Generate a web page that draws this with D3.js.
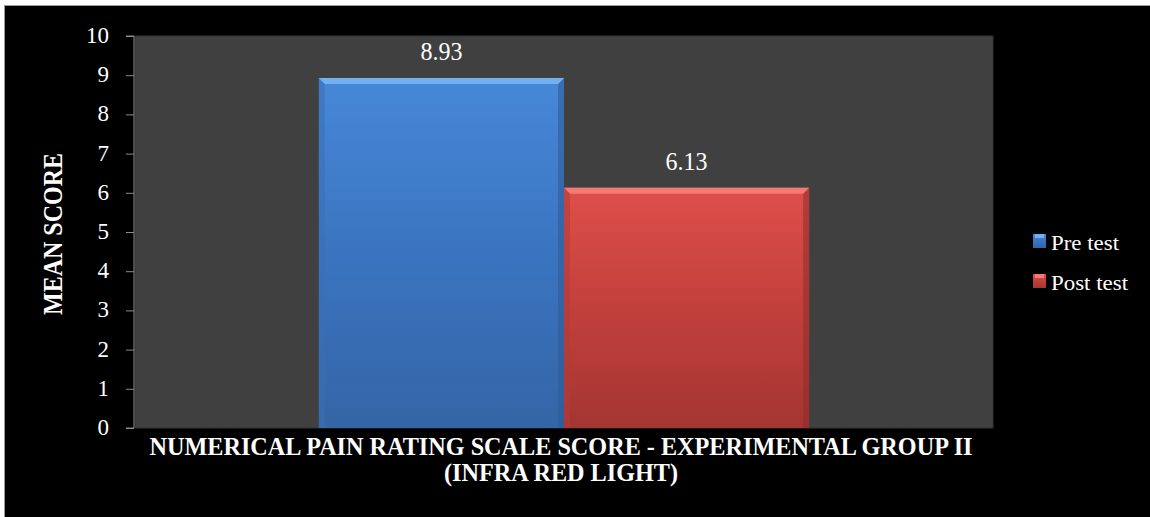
<!DOCTYPE html>
<html><head><meta charset="utf-8">
<script src="https://cdn.jsdelivr.net/npm/d3@7"></script>
<style>body{margin:0;background:#fff;}svg{display:block;} text{font-family:"Liberation Serif","DejaVu Serif",serif;}</style>
</head><body>
<svg id="c" width="1150" height="517"></svg>
<script>
const seriesNames = ["Pre test", "Post test"];
const seriesValues = [8.93, 6.13];
const valueLabels = ["8.93", "6.13"];
const category = ["NUMERICAL PAIN RATING SCALE SCORE - EXPERIMENTAL GROUP II", "(INFRA RED LIGHT)"];
const yTicks = [0,1,2,3,4,5,6,7,8,9,10];
const yTitle = "MEAN SCORE";

const svg = d3.select("#c");
const W = 1150, H = 517;
const plot = {l:135, r:993, t:36, b:428};
const font = "Liberation Serif";

svg.append("rect").attr("x",4.5).attr("y",5.5).attr("width",W-4).attr("height",H-5)
  .attr("fill","#000").attr("stroke","#9a9a9a").attr("stroke-width",1);

const defs = svg.append("defs");
const pal = [
  {main:["#4788d8","#3a74c0","#3465a6"], top:"#72b0f2", side:"#3a6fb4", dark:"#2e5a96"},
  {main:["#de4f4a","#c2403c","#a43532"], top:"#f57a74", side:"#b33b37", dark:"#8e2d2a"}
];
pal.forEach((p,i)=>{
  const g = defs.append("linearGradient").attr("id","g"+i).attr("x1",0).attr("y1",0).attr("x2",0).attr("y2",1);
  g.append("stop").attr("offset","0%").attr("stop-color",p.main[0]);
  g.append("stop").attr("offset","50%").attr("stop-color",p.main[1]);
  g.append("stop").attr("offset","100%").attr("stop-color",p.main[2]);
});

svg.append("rect").attr("x",plot.l).attr("y",plot.t).attr("width",plot.r-plot.l).attr("height",plot.b-plot.t)
  .attr("fill","#404040").attr("stroke","#333").attr("stroke-width",1);

const y = d3.scaleLinear().domain([0,10]).range([plot.b, plot.t]);
const outer = d3.scaleBand().domain([category[0]]).range([plot.l, plot.r]).paddingInner(0).paddingOuter(0);
const bw = outer.bandwidth();
const groupW = bw * 2 / 3.5;
const x = d3.scaleBand().domain(seriesNames)
  .range([outer(category[0]) + (bw-groupW)/2, outer(category[0]) + (bw+groupW)/2]).padding(0);

const bars = svg.append("g");
seriesNames.forEach((s,i)=>{
  const x0 = x(s), x1 = x(s)+x.bandwidth(), y0 = y(seriesValues[i]), y1 = y(0);
  const p = pal[i];
  const bv = 6;
  const g = bars.append("g");
  g.append("rect").attr("x",x0).attr("y",y0).attr("width",x1-x0).attr("height",y1-y0).attr("fill","url(#g"+i+")");
  g.append("path").attr("d",`M${x0},${y0}L${x0+bv},${y0+bv}L${x0+bv},${y1}L${x0},${y1}Z`).attr("fill",p.side).attr("opacity",0.55);
  g.append("path").attr("d",`M${x1},${y0}L${x1-bv},${y0+bv}L${x1-bv},${y1}L${x1},${y1}Z`).attr("fill",p.dark).attr("opacity",0.55);
  g.append("path").attr("d",`M${x0},${y0}L${x1},${y0}L${x1-bv},${y0+bv}L${x0+bv},${y0+bv}Z`).attr("fill",p.top);
  svg.append("text").attr("transform",`translate(${x0+(x1-x0)/2},${y0-18}) scale(1,1.15)`)
    .attr("text-anchor","middle").attr("fill","#fff")
    .style("font-family",font).attr("font-size",21)
    .attr("textLength",42).attr("lengthAdjust","spacingAndGlyphs")
    .text(valueLabels[i]);
});

const axisG = svg.append("g").attr("transform",`translate(${plot.l-1},0)`);
axisG.call(d3.axisLeft(y).tickValues(yTicks).tickSize(8).tickPadding(17).tickFormat(d3.format("d")));
axisG.select(".domain").attr("stroke","#8c8c8c").attr("d",`M-8,${y(10)}H0V${y(0)}H-8`);
axisG.selectAll(".tick line").attr("stroke","#8c8c8c");
axisG.selectAll(".tick text").attr("fill","#fff").style("font-family",font).attr("font-size",23).attr("dy","0.28em");

svg.append("text").attr("transform",`translate(62,234) rotate(-90) scale(1,1.15)`)
  .attr("text-anchor","middle").attr("fill","#fff").attr("font-weight","bold")
  .style("font-family",font).attr("font-size",24)
  .attr("textLength",162).attr("lengthAdjust","spacingAndGlyphs").text(yTitle);

const cx = (plot.l+plot.r)/2 - 3;
svg.append("text").attr("transform",`translate(${cx},455) scale(1,1.15)`).attr("text-anchor","middle").attr("fill","#fff")
  .attr("font-weight","bold").style("font-family",font).attr("font-size",22)
  .attr("textLength",823).attr("lengthAdjust","spacingAndGlyphs").text(category[0]);
svg.append("text").attr("transform",`translate(${cx},481) scale(1,1.15)`).attr("text-anchor","middle").attr("fill","#fff")
  .attr("font-weight","bold").style("font-family",font).attr("font-size",22)
  .attr("textLength",234).attr("lengthAdjust","spacingAndGlyphs").text(category[1]);

const leg = svg.append("g");
const legW = [68, 77];
seriesNames.forEach((s,i)=>{
  const ly = 241 + i*40;
  leg.append("rect").attr("x",1033).attr("y",ly-7).attr("width",13).attr("height",14)
    .attr("fill","url(#g"+i+")");
  leg.append("rect").attr("x",1035).attr("y",ly-7).attr("width",9).attr("height",4).attr("fill",pal[i].top);
  leg.append("text").attr("x",1051).attr("y",ly+9).attr("fill","#fff")
    .style("font-family",font).attr("font-size",22)
    .attr("textLength",legW[i]).attr("lengthAdjust","spacingAndGlyphs").text(s);
});
</script>
</body></html>
